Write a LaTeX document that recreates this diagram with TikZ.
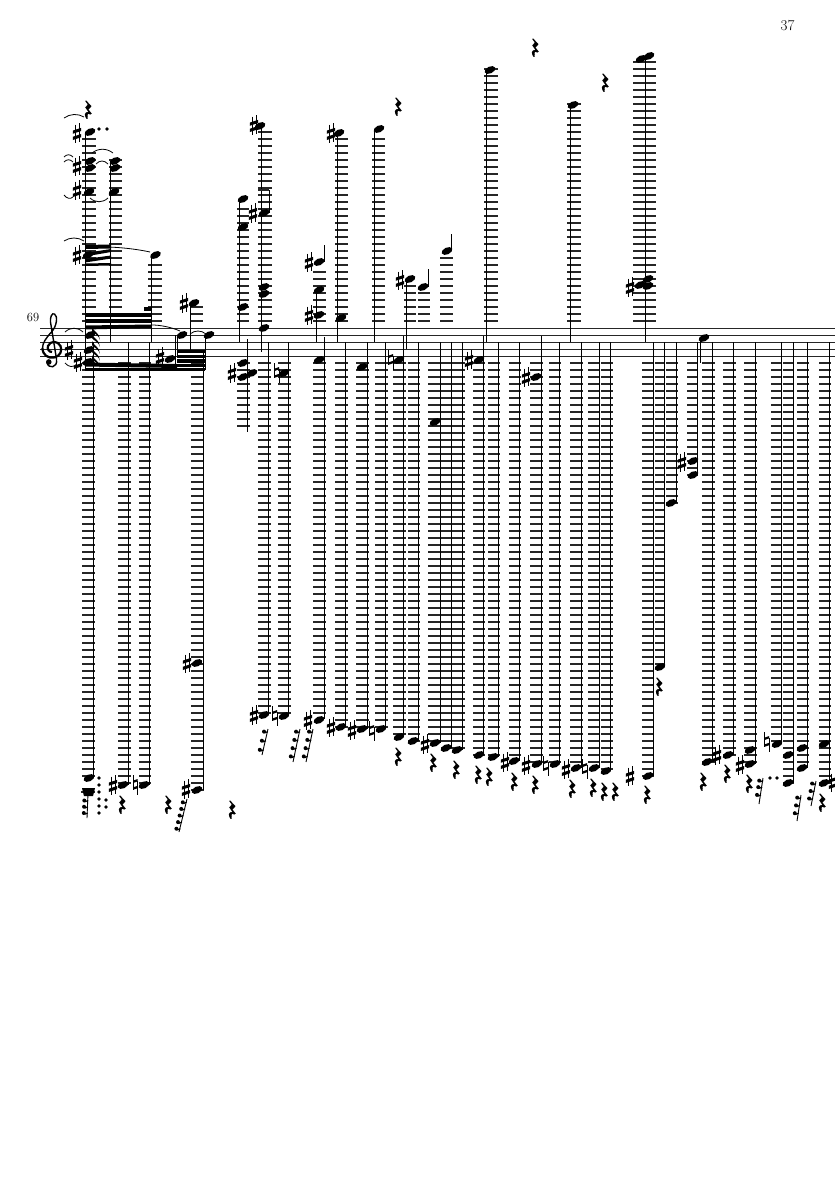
\documentclass[tikz,border=0pt]{standalone}
\tikzset{
  staffline/.style={line width=0.75pt,black!85},
  ledgerline/.style={line width=1.1pt,black!85},
  stemline/.style={line width=1pt,black},
  tieline/.style={line width=0.8pt,black},
}
\newcommand{\nh}[2]{\fill[shift={(#1,#2)},rotate=25] (0,0) ellipse [x radius=5.7pt,y radius=3.4pt];}
\newcommand{\shp}[2]{\begin{scope}[shift={(#1,#2)}]
  \draw[line width=0.85pt] (-1.8,-8.5)--(-1.8,10) (2,-10)--(2,8.5);
  \fill (-4.2,-2.4)--(4.2,-5.2)--(4.2,-2)--(-4.2,0.8)--cycle (-4.2,3.8)--(4.2,1)--(4.2,4.2)--(-4.2,7)--cycle;
\end{scope}}
\newcommand{\ntl}[2]{\begin{scope}[shift={(#1,#2)}]
  \draw[line width=0.9pt] (-2.2,-10)--(-2.2,4.5) (2.2,-4.5)--(2.2,10);
  \fill (-2.2,-4.5)--(2.2,-6)--(2.2,-3.6)--(-2.2,-2.1)--cycle (-2.2,2.3)--(2.2,0.8)--(2.2,3.2)--(-2.2,4.7)--cycle;
\end{scope}}
\newcommand{\qrest}[2]{\filldraw[shift={(#1,#2)},xscale=1.25,line width=0.3pt] (-2,-9)--(-1.5,-9.3)--(2.6,-3.8)--(0.2,-0.5)--(2.8,3.6)--(1.8,4.3) .. controls (0,3) and (-1,3.5) .. (-0.4,8.5)--(-1,8.8) .. controls (-3,5.5) and (-3.2,2.5) .. (0.5,1.8)--(-2,-2.5)--(0,-5.5)--cycle;}
\newcommand{\frest}[5]{\draw[line width=0.9pt] (#1,#2)--(#3,#4);
  \foreach \k in {#5} {\fill ($(#1,#2)!\k!(#3,#4)+(-3.4,0)$) circle (2pt); \draw[line width=1.2pt] ($(#1,#2)!\k!(#3,#4)+(-2.5,1.2)$)--($(#1,#2)!\k!(#3,#4)+(0.5,0)$);}}
\newcommand{\dt}[2]{\fill (#1,#2) circle (1.8pt);}
\newcommand{\tie}[5]{\draw[tieline] (#1,#2) .. controls ($(#1,#2)!0.3!(#3,#4)+(0,#5)$) and ($(#1,#2)!0.7!(#3,#4)+(0,#5)$) .. (#3,#4);}
\newcommand{\ledup}[3]{\foreach \yy in {321,314,...,#3} \draw[ledgerline] (#1,\yy)--(#2,\yy);}
\newcommand{\leddn}[3]{\foreach \yy in {363,370,...,#3} \draw[ledgerline] (#1,\yy)--(#2,\yy);}
\usetikzlibrary{calc}
\begin{document}
\begin{tikzpicture}[x=1pt,y=-1pt]
\useasboundingbox (0,0) rectangle (835,1181);
\fill[white] (0,0) rectangle (835,1181);
\node[font=\fontsize{15}{16}\selectfont] (pagenum) at (787.5,25.5) {37};
\node[font=\fontsize{12.5}{13}\selectfont] (barnum) at (33,317) {69};
\foreach \yy in {328,335,342,349,356} \draw[staffline] (40,\yy)--(835,\yy);
% clef
\draw[line width=1.4pt,line cap=round] (47,362.5) .. controls (48,369) and (58,368.5) .. (56.5,359) -- (50.5,322) .. controls (50,317) and (52,312.5) .. (54.5,314) .. controls (58,316) and (57,326) .. (51.5,332) .. controls (46,338) and (42.5,343) .. (42.5,348);
\draw[line width=2.2pt] (42.5,348) .. controls (42.5,355) and (48,358.5) .. (54,357.5) .. controls (60.5,356.5) and (62.5,350) .. (60.5,346) .. controls (58,340.5) and (50,340.5) .. (48,346) .. controls (47,349) and (49,352) .. (52,352);
\fill (48.8,362) circle (2.8pt);
% ledger lines above
\foreach \a/\b/\c in {82/96/139,109/122/160,148/162/261,190/203/307,237/249/206,258/272/132,313/326/269,335/348/139,372/385/135,404/416/286,418/430/293,440/453/258,484/498/69,567/581/104,633/656/62} {\ledup{\a}{\b}{\c}}
% ledger lines below
\foreach \a/\b/\c in {82/95/778,118/131/785,139/151/785,191/204/790,237/250/432,258/271/715,278/291/716,313/326/719,335/348/727,356/369/729,375/388/729,393/406/737,408/420/741,428/440/743,441/453/748,453/465/750,473/485/755,488/500/757,509/521/761,530/543/764,549/561/764,570/583/768,588/600/768,601/613/771,642/654/776,655/665/667,666/678/503,687/698/475,702/715/762,723/736/755,744/757/764,771/782/744,783/794/783,797/809/768,819/831/783} {\leddn{\a}{\b}{\c}}
\draw[ledgerline] (81,792)--(95,792);
% stems from above-staff notes
\foreach \x/\t in {85/133,85.8/133,110.5/161,151/255,190/303,239/199,239.6/199,261/125,316/290,337/133,374/129,406/279,486/70,570/105,645/57,645.8/57} {\draw[stemline] (\x,\t)--(\x,342);}
\draw[stemline] (261,342)--(261,352);
\draw[stemline] (190,342)--(190,350);
\draw[stemline] (85,342)--(85,368);
\draw[stemline] (85.8,342)--(85.8,368);
\draw[stemline] (406,342)--(406,349);
% stems going to below-staff notes
\foreach \x/\t/\b in {93/342/778,128.7/342/785,149/342/785,203/350/790,247/339/432,268/342/715,288/342/716,324/337/719,345.7/342/727,367/342/729,385/342/729,403/336/737,418/342/741,440/342/743,451/342/748,462/342/750,483/336/755,498/342/757,519/342/761,541/336/764,559/342/764,581/342/768,599/342/768,610/342/771,653/342/776,664/342/667,676/342/503,697/342/475,712/342/762,733/342/755,755/342/764,781.5/342/744,793/342/783,807/342/768,829.5/342/783} {\draw[stemline] (\x,\t)--(\x,\b);}
% other stems
\draw[stemline] (700,338)--(700,363);
\draw[stemline] (175.5,335)--(175.5,370);
\draw[stemline] (177.5,358)--(177.5,335);
\draw[stemline] (205,335)--(205,370);
\draw[stemline] (269,190)--(269,213);
\draw[ledgerline] (258,190)--(269,190);
\draw[stemline] (324,245)--(324,262);
\draw[stemline] (428,269)--(428,287);
\draw[stemline] (451,234)--(451,251);
% beams
\fill (85,313)--(151,313)--(151,317)--(85,317)--cycle;
\fill (85,318.5)--(151,318.5)--(151,322.5)--(85,322.5)--cycle;
\fill (85,325.5)--(151,324.5)--(151,328)--(85,329.5)--cycle;
\fill (144,307)--(151,307)--(151,311)--(144,311)--cycle;
\fill (85,245)--(111,244.5)--(111,248.5)--(85,249)--cycle;
\fill (85,253)--(111,249)--(111,252)--(85,256.5)--cycle;
\fill (85,259)--(111,255.5)--(111,258.5)--(85,262.5)--cycle;
\fill (85,263.5)--(111,263)--(111,265.5)--(85,266)--cycle;
\fill (85,362.5)--(177,364)--(177,368)--(85,366.5)--cycle;
\fill (85,367.5)--(205,367.5)--(205,371)--(85,371)--cycle;
\fill (177,349.5)--(205,349.5)--(205,353)--(177,353)--cycle;
\fill (177,354.5)--(205,354.5)--(205,358)--(177,358)--cycle;
\fill (177,359)--(205,359)--(205,362.5)--(177,362.5)--cycle;
\fill (177,363.5)--(205,363.5)--(205,367)--(177,367)--cycle;
% flags
\foreach \yy in {327,334,341,348,355} {\fill (92,\yy) .. controls (93,\yy+4) and (100,\yy+6) .. (100,\yy+13) .. controls (99,\yy+8) and (94,\yy+7) .. (92,\yy+4)--cycle;}
% noteheads
\foreach \x/\y in {90/132,90/161,90/168,89/192,88/255,90/335,89/350,88/362,115/161,115/168,114/192,155.5/255,194/303,182/335,209/335,170/359,243/199,243/227,243/307,243/363,243/377,252/373,260/126,264/213,264/287,264/294,264/328,284/373,319/262,319/290,319/315,319/360,339/133,341/318,379/129,362/367,399/360,410/279,423/287,447/251,435/422,479/360,490/70,536/377,573/105,641/59,649/56,640/285,648/279,648/286,704/338,
 89/778,89/792,123/785,144/785,197/790,197/663,264/715,284/716,319/720,341/727,362/729,381/729,399/737,413/741,435/743,446/748,457/750,479/755,493/757,514/761,537/764,555/764,576/768,594/768,606/771,648/776,660/667,671/503,693/461,693/475,707/762,728/755,750/750,750/764,777/744,788/755,788/783,802/748,802/768,824/744,824/783} {\nh{\x}{\y}}
\fill (82,788)--(95,788)--(93,796)--(84,796)--cycle;
% sharps
\foreach \x/\y in {77/133,77/166,77/190,77/255,69/350,78/362,160/357,184/303,113/785,187/663,186/789,232/373,254/125,253/213,254/715,309/262,309/315,308/720,331/133,331/727,352/730,400/280,425/744,469/360,505/762,526/377,526/765,566/769,630/287,630/776,682/462,717/755,740/765,833/782} {\shp{\x}{\y}}
% naturals
\foreach \x/\y in {135.5/785,275/716,277/373,372/731,391/360,546/766,585/769,767/742} {\ntl{\x}{\y}}
% quarter rests
\foreach \x/\y in {88/110,122/805,168/805,232/810,398/107,535/48,605/83,398/757,433/763,456/770,478/775,489/777,514/782,535/785,572/789,593/788,604/792,615/792,647/795,659/687,703/782,727/774,749/784,822/803} {\qrest{\x}{\y}}
% short rests
\frest{88}{793}{87}{818}{0.3,0.55,0.8}
\frest{268}{729}{262}{755}{0.1,0.45,0.8}
\frest{300}{729}{293}{762}{0.08,0.33,0.58,0.83}
\frest{313}{729}{306}{762}{0.08,0.33,0.58,0.83}
\frest{187}{799}{179}{832}{0.1,0.3,0.5,0.7,0.9}
\frest{763}{778}{759}{804}{0.1,0.35,0.65}
\frest{801}{795}{797}{821}{0.1,0.4,0.7}
\frest{816}{781}{811}{806}{0.1,0.4,0.7}
% dots
\foreach \x/\y in {99/129,107/129,99/778,99/785,99/792,99/799,99/806,99/813,106/800,106/807,770/778,777/778} {\dt{\x}{\y}}
% ties
\tie{64}{118}{84}{117}{-4}
\tie{64}{157}{73}{157}{-3}
\tie{64}{162}{73}{162}{-3}
\tie{64}{195}{73}{197}{3}
\tie{64}{241}{84}{241}{-4}
\tie{92}{153}{113}{153}{-5}
\tie{96}{164}{108}{164}{-4}
\tie{90}{198}{108}{198}{5}
\tie{97}{247}{150}{252}{-2}
\tie{151}{325}{180}{331}{-2}
\tie{190}{334}{206}{334}{-4}
\tie{65}{332}{83}{332}{-5}
\tie{65}{363}{77}{364}{4}
\end{tikzpicture}
\end{document}
